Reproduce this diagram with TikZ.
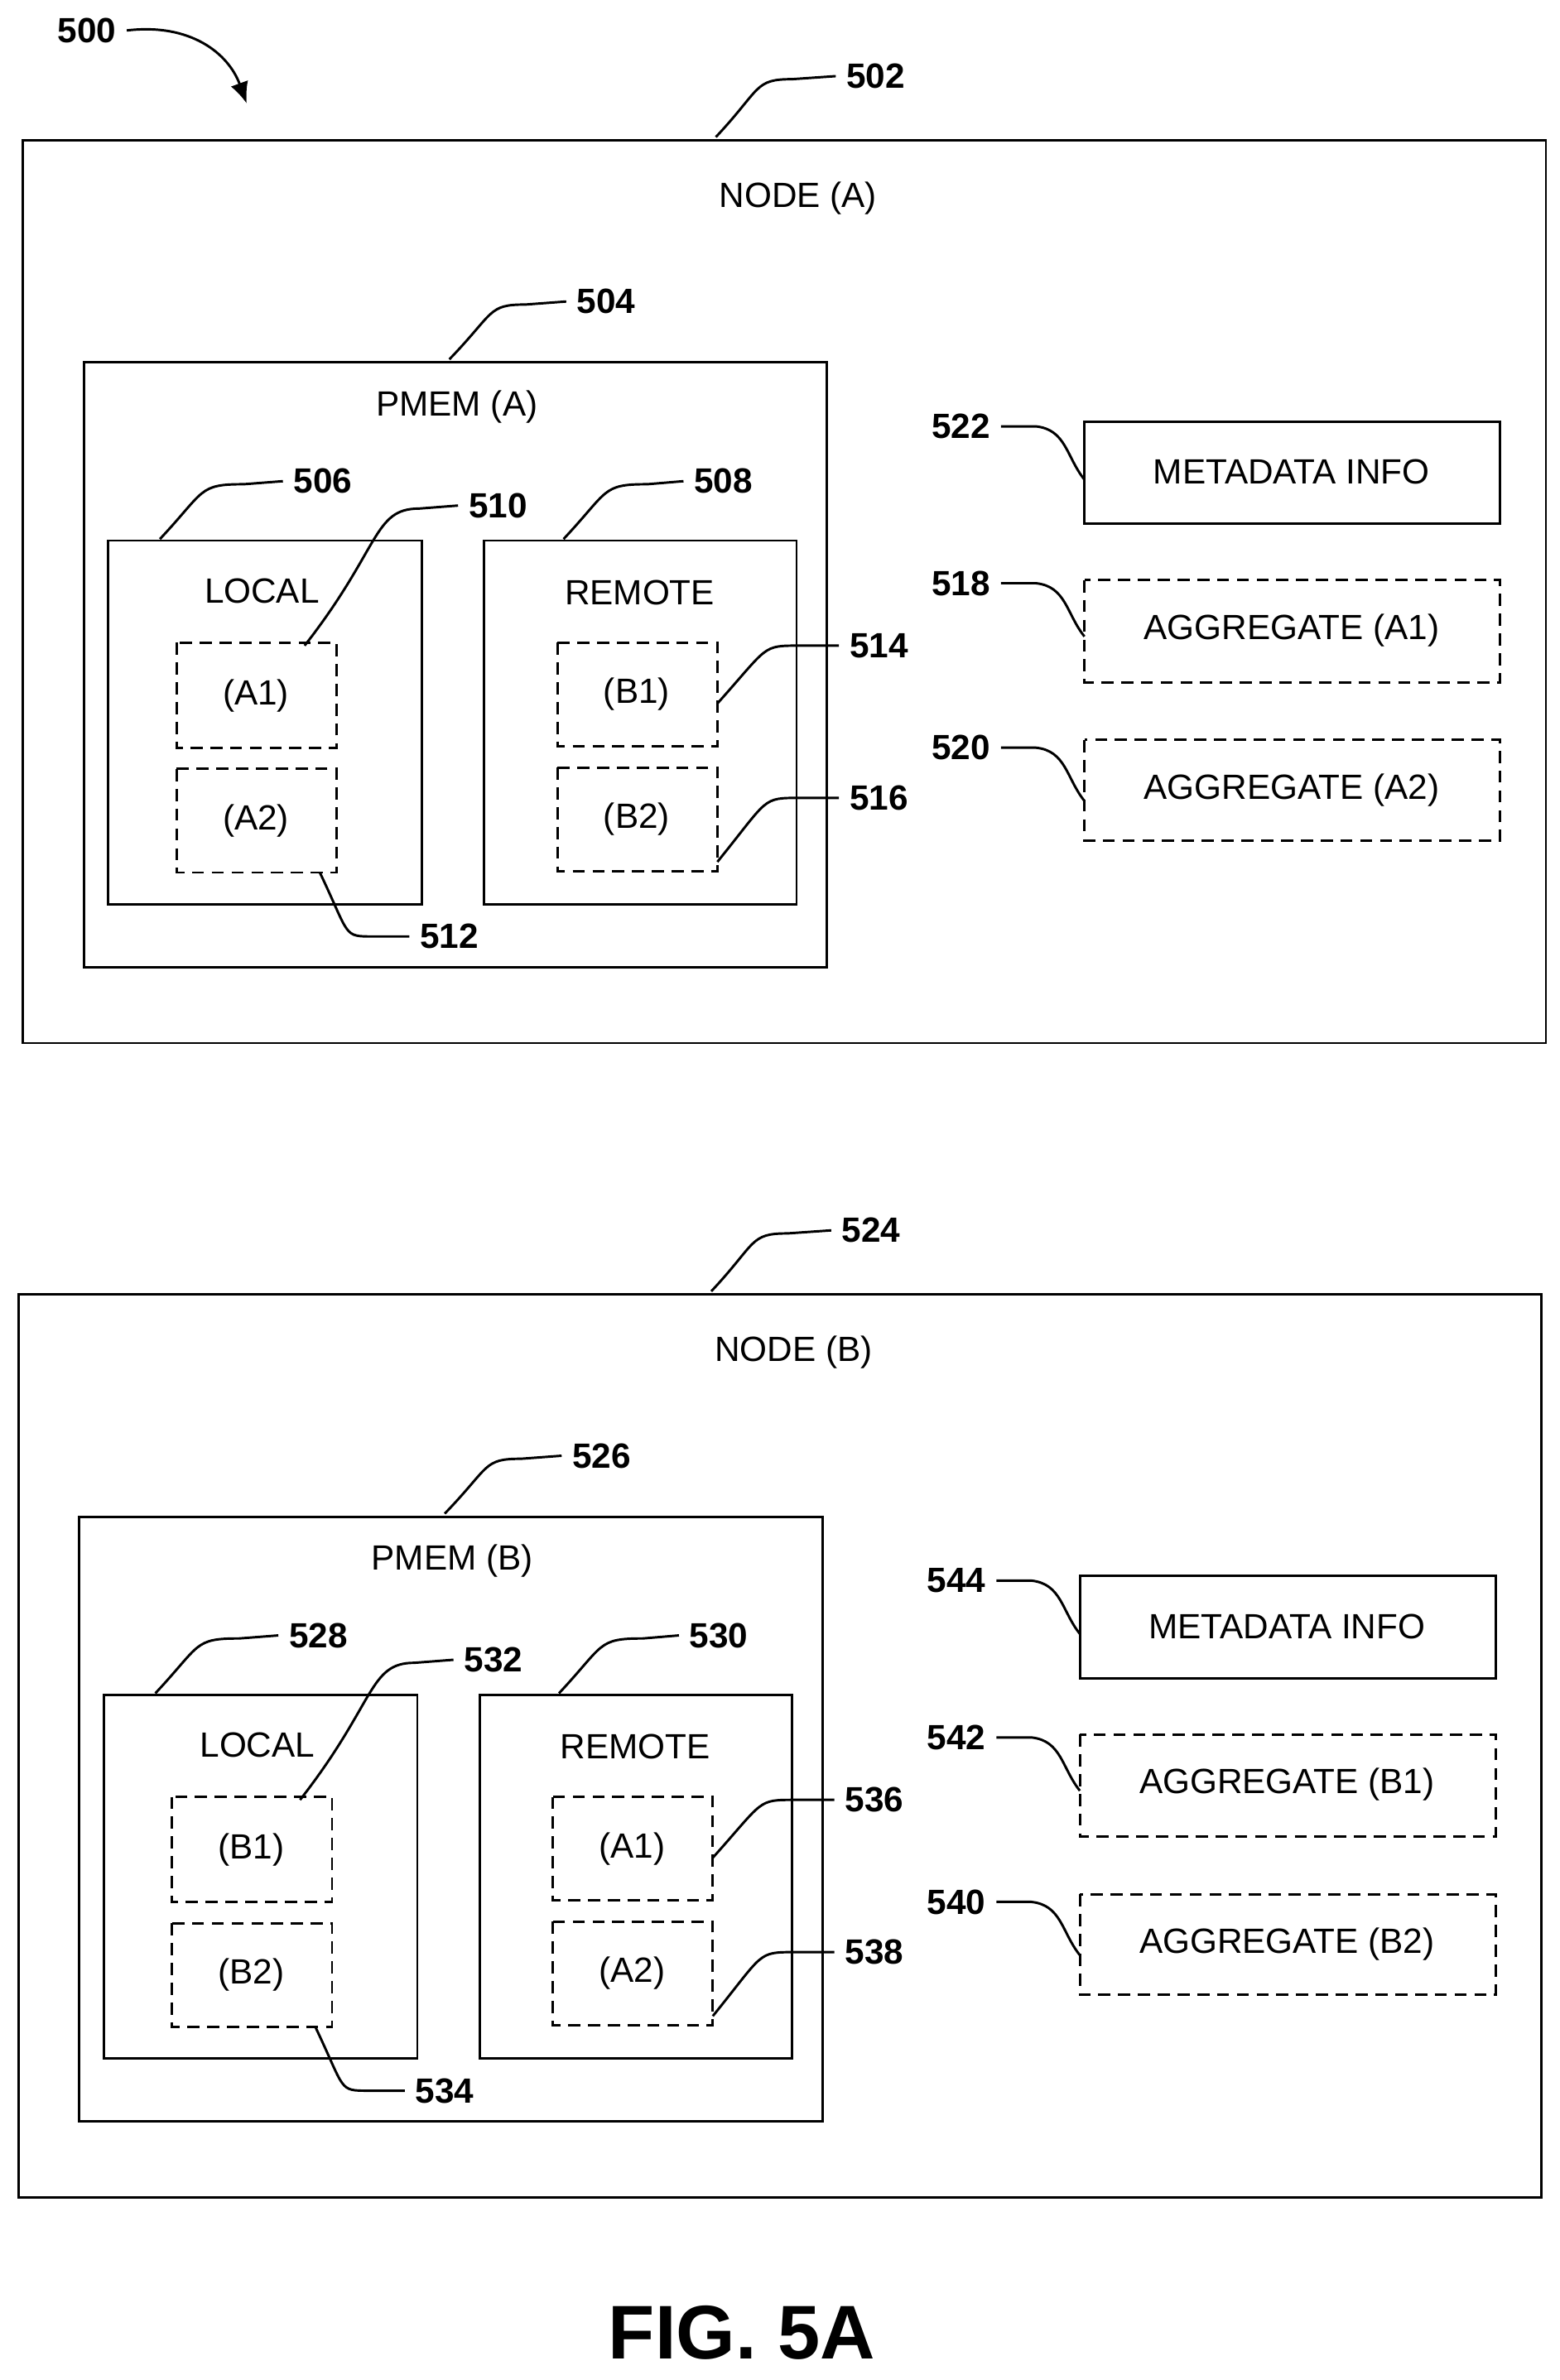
\documentclass[tikz,border=0pt]{standalone}
\usepackage{fontspec}
\usetikzlibrary{arrows.meta}
\setmainfont{Liberation Sans}
\begin{document}
\begin{tikzpicture}[x=0.5pt,y=-0.5pt,
  box/.style={draw,line width=0.8pt},
  dbox/.style={draw,line width=0.8pt,dash pattern=on 4pt off 2.5pt},
  txt/.style={font=\fontsize{11.5}{13}\selectfont},
  num/.style={font=\bfseries\fontsize{11.5}{13}\selectfont},
  lead/.style={line width=0.8pt}]
\useasboundingbox (0,0) rectangle (1024,1563);
\node[num] (n500) at (57,20) {500};
\draw[lead,-{Latex[length=7pt,width=6pt]}] (n500.east) .. controls (125,15) and (150,35) .. (162,68);
\newcommand\mypanel[9]{%
 \draw[box] (15,92) rectangle (1015,685);
 \node[num] (#1n) at (575,50) {#2};
 \draw[lead] (470,90) .. controls (500,58) and (495,52) .. (520,52) -- (#1n.west);
 \node[txt] at (524,130) {NODE (#1)};
 \draw[box] (55,238) rectangle (543,635);
 \node[txt] at (300,267) {PMEM (#1)};
 \node[num] (#1p) at (398,198) {#3};
 \draw[lead] (295,236) .. controls (325,205) and (320,200) .. (345,200) -- (#1p.west);
 \draw[box] (71,355) rectangle (277,594);
 \node[txt] at (172,388) {LOCAL};
 \node[num] (#1l) at (212,316) {#4};
 \draw[lead] (105,354) .. controls (135,322) and (130,318) .. (160,318) -- (#1l.west);
 \draw[box] (318,355) rectangle (523,594);
 \node[txt] at (420,389) {REMOTE};
 \node[num] (#1r) at (475,316) {#5};
 \draw[lead] (370,354) .. controls (400,322) and (395,318) .. (425,318) -- (#1r.west);
 \draw[dbox] (116,422) rectangle (221,491); \node[txt] at (168,457) {(#6}; 
 \draw[dbox] (116,505) rectangle (221,573); \node[txt] at (168,539) {(#7};
 \draw[dbox] (366,422) rectangle (471,490); \node[txt] at (418,456) {(#8};
 \draw[dbox] (366,504) rectangle (471,572); \node[txt] at (418,538) {(#9};
 \draw[box] (712,277) rectangle (985,344); \node[txt] at (848,310) {METADATA INFO};
}
\newcommand\mypanelb[8]{%
 \node[num] (#1a) at (327,332) {#2};
 \draw[lead] (200,424) .. controls (250,360) and (245,334) .. (275,334) -- (#1a.west);
 \node[num] (#1b) at (295,615) {#3};
 \draw[lead] (210,573) .. controls (230,615) and (225,615) .. (245,615) -- (#1b.west);
 \node[num] (#1c) at (577,424) {#4};
 \draw[lead] (471,462) .. controls (505,424) and (500,424) .. (525,424) -- (#1c.west);
 \node[num] (#1d) at (577,524) {#5};
 \draw[lead] (471,566) .. controls (505,524) and (500,524) .. (525,524) -- (#1d.west);
 \draw[dbox] (712,381) rectangle (985,448); \node[txt] at (848,414) {AGGREGATE (#6};
 \draw[dbox] (712,486) rectangle (985,552); \node[txt] at (848,519) {AGGREGATE (#7};
 \node[num] (#1e) at (631,280) {#8};
}
\newcommand\myleads[3]{%
 \node[num] (#1f) at (631,383) {#2};
 \node[num] (#1g) at (631,491) {#3};
 \draw[lead] (#1e.east) -- (680,280) .. controls (700,282) and (700,300) .. (712,315);
 \draw[lead] (#1f.east) -- (680,383) .. controls (700,385) and (700,403) .. (712,418);
 \draw[lead] (#1g.east) -- (680,491) .. controls (700,493) and (700,511) .. (712,526);
}
\begin{scope}
\mypanel{A}{502}{504}{506}{508}{A1)}{A2)}{B1)}{B2)}
\mypanelb{A}{510}{512}{514}{516}{A1)}{A2)}{522}
\myleads{A}{518}{520}
\end{scope}
\begin{scope}[shift={(-3,758)}]
\mypanel{B}{524}{526}{528}{530}{B1)}{B2)}{A1)}{A2)}
\mypanelb{B}{532}{534}{536}{538}{B1)}{B2)}{544}
\myleads{B}{542}{540}
\end{scope}
\node[font=\bfseries\fontsize{25}{28}\selectfont] (fig) at (487,1532) {FIG. 5A};
\end{tikzpicture}
\end{document}
